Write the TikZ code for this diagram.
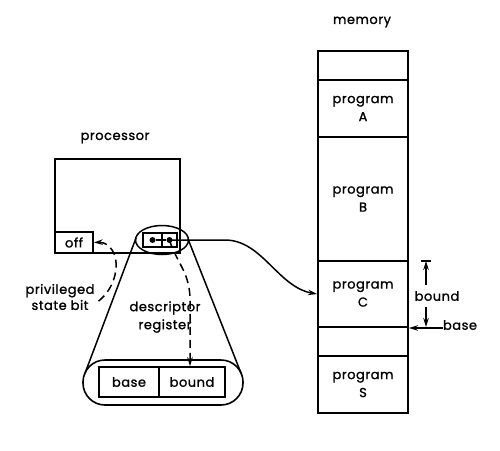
\documentclass[tikz,border=0pt]{standalone}
\usepackage{fontspec}
\setmainfont{Poppins}[LetterSpace=4, FakeBold=1.2]
\usetikzlibrary{shapes.geometric,arrows.meta}
\begin{document}
\begin{tikzpicture}[x=1pt,y=-1pt,
  lbl/.style={font=\fontsize{13}{18}\selectfont, align=center, inner sep=0pt},
  box/.style={draw, line width=1.6pt, inner sep=0pt},
  cell/.style={draw, line width=2pt, minimum width=90pt, inner sep=0pt,
    font=\fontsize{13}{18}\selectfont, align=center},
  arr/.style={-{Stealth[length=9pt,width=5.5pt]}, line width=1.5pt},
  dsh/.style={dash pattern=on 8pt off 5pt, line width=1.5pt},
  dot/.style={circle, fill, inner sep=0pt, minimum size=6pt}]
\useasboundingbox (0,0) rectangle (500,450);

% memory
\node[lbl] (memL) at (362,22) {memory};
\node[cell, minimum height=29pt] (c0) at (363,65.5) {};
\node[cell, minimum height=57pt] (cA) at (363,108.5) {program\\A};
\node[cell, minimum height=124pt] (cB) at (363,199) {program\\B};
\node[cell, minimum height=66pt] (cC) at (363,294) {program\\C};
\node[cell, minimum height=29pt] (cD) at (363,341.5) {};
\node[cell, minimum height=57pt] (cS) at (363,384.5) {program\\S};

% bound / base
\node[lbl] (bndL) at (437,296) {bound};
\coordinate (bT) at (426,261);
\coordinate (bB) at (426,327);
\coordinate (bU) at (426,285);
\coordinate (bD) at (426,307);
\draw[line width=1.5pt] ([xshift=-5pt]bT) -- ([xshift=5pt]bT);
\draw[arr] (bU) -- (bT);
\draw[arr] (bD) -- (bB);
\node[lbl] (baseL) at (460,325) {base};
\draw[arr] (baseL.west |- cC.south) -- (cC.south east);

% processor
\node[lbl] (procL) at (115,138) {processor};
\node[box, minimum width=125pt, minimum height=94pt] (proc) at (117.5,206) {};
\node[box, minimum width=38pt, minimum height=21pt, font=\fontsize{13}{18}\selectfont] (off) at (74,242.5) {off};

% descriptor register in processor
\node[draw, ellipse, line width=1.5pt, minimum width=53pt, minimum height=29pt, inner sep=0pt] (regE) at (162,240) {};
\node[box, line width=1.2pt, minimum width=19pt, minimum height=14pt] (regL) at (152.5,240) {};
\node[box, line width=1.2pt, minimum width=15pt, minimum height=14pt] (regR) at (169.5,240) {};
\node[dot] (dL) at (regL.center) {};
\node[dot] (dR) at (regR.center) {};
\draw[line width=1.5pt] (dL) -- (dR);

% expanded register
\node[draw, line width=1.6pt, rounded corners=22pt, minimum width=160pt, minimum height=45pt] (cap) at (163,382.5) {};
\node[box, minimum width=60pt, minimum height=30pt, font=\fontsize{13}{18}\selectfont] (bse) at (129,382) {base};
\node[box, minimum width=66pt, minimum height=30pt, font=\fontsize{13}{18}\selectfont] (bnd) at (192,382) {bound};

% cone
\coordinate (t1) at (136,238);
\coordinate (t2) at (84.6,374.3);
\coordinate (t3) at (188,239);
\coordinate (t4) at (241.5,374.3);
\draw[line width=1.5pt] (t1) -- (t2);
\draw[line width=1.5pt] (t3) -- (t4);

% labels
\node[lbl] (descL) at (165,317) {descriptor\\register};
\node[lbl, font=\fontsize{13}{16}\selectfont] (privL) at (60,297) {privileged\\state bit};

% connectors
\draw[arr] (dR.center) -- (225,240) .. controls (262,240) and (278,287) .. (cC.west);
\draw[arr, dsh] (dR.center) .. controls (176,262) and (190,272) .. (190,300) -- ([xshift=-2pt]bnd.north);
\draw[dsh, {Stealth[length=9pt,width=5.5pt]}-] (off.east) .. controls (105,242) and (112,247) .. (115,256) .. controls (119,272) and (112,292) .. (96,303);
\end{tikzpicture}
\end{document}
